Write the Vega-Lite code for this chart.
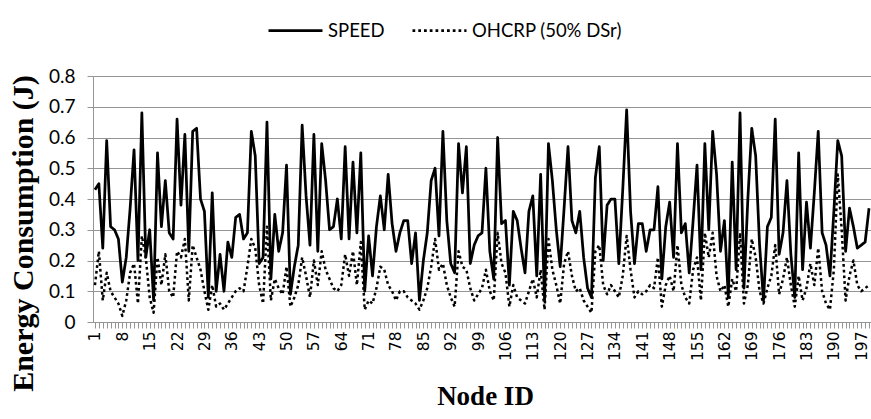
{
  "$schema": "https://vega.github.io/schema/vega-lite/v6.json",
  "width": 778,
  "height": 246,
  "autosize": {"type": "none"},
  "padding": {"left": 93, "top": 76, "right": 0, "bottom": 97},
  "background": "white",
  "data": {"values": [
    {"n":1,"s":0.43,"o":0.12},{"n":2,"s":0.45,"o":0.23},{"n":3,"s":0.24,"o":0.07},{"n":4,"s":0.59,"o":0.16},{"n":5,"s":0.31,"o":0.10},
    {"n":6,"s":0.30,"o":0.08},{"n":7,"s":0.27,"o":0.06},{"n":8,"s":0.13,"o":0.02},{"n":9,"s":0.21,"o":0.07},{"n":10,"s":0.37,"o":0.16},
    {"n":11,"s":0.56,"o":0.19},{"n":12,"s":0.20,"o":0.06},{"n":13,"s":0.68,"o":0.28},{"n":14,"s":0.21,"o":0.21},{"n":15,"s":0.30,"o":0.08},
    {"n":16,"s":0.07,"o":0.03},{"n":17,"s":0.55,"o":0.21},{"n":18,"s":0.31,"o":0.12},{"n":19,"s":0.46,"o":0.22},{"n":20,"s":0.29,"o":0.10},
    {"n":21,"s":0.27,"o":0.08},{"n":22,"s":0.66,"o":0.23},{"n":23,"s":0.38,"o":0.21},{"n":24,"s":0.61,"o":0.27},{"n":25,"s":0.23,"o":0.07},
    {"n":26,"s":0.62,"o":0.25},{"n":27,"s":0.63,"o":0.21},{"n":28,"s":0.40,"o":0.17},{"n":29,"s":0.36,"o":0.10},{"n":30,"s":0.08,"o":0.04},
    {"n":31,"s":0.42,"o":0.12},{"n":32,"s":0.10,"o":0.05},{"n":33,"s":0.22,"o":0.06},{"n":34,"s":0.10,"o":0.04},{"n":35,"s":0.26,"o":0.06},
    {"n":36,"s":0.21,"o":0.08},{"n":37,"s":0.34,"o":0.10},{"n":38,"s":0.35,"o":0.11},{"n":39,"s":0.27,"o":0.10},{"n":40,"s":0.29,"o":0.18},
    {"n":41,"s":0.62,"o":0.27},{"n":42,"s":0.54,"o":0.24},{"n":43,"s":0.19,"o":0.12},{"n":44,"s":0.21,"o":0.06},{"n":45,"s":0.65,"o":0.31},
    {"n":46,"s":0.14,"o":0.07},{"n":47,"s":0.35,"o":0.14},{"n":48,"s":0.23,"o":0.11},{"n":49,"s":0.29,"o":0.09},{"n":50,"s":0.51,"o":0.18},
    {"n":51,"s":0.09,"o":0.05},{"n":52,"s":0.18,"o":0.08},{"n":53,"s":0.25,"o":0.12},{"n":54,"s":0.64,"o":0.21},{"n":55,"s":0.41,"o":0.15},
    {"n":56,"s":0.25,"o":0.08},{"n":57,"s":0.61,"o":0.20},{"n":58,"s":0.23,"o":0.12},{"n":59,"s":0.58,"o":0.23},{"n":60,"s":0.46,"o":0.17},
    {"n":61,"s":0.30,"o":0.14},{"n":62,"s":0.31,"o":0.11},{"n":63,"s":0.40,"o":0.10},{"n":64,"s":0.27,"o":0.12},{"n":65,"s":0.57,"o":0.22},
    {"n":66,"s":0.27,"o":0.15},{"n":67,"s":0.52,"o":0.23},{"n":68,"s":0.29,"o":0.12},{"n":69,"s":0.55,"o":0.26},{"n":70,"s":0.10,"o":0.04},
    {"n":71,"s":0.28,"o":0.07},{"n":72,"s":0.15,"o":0.06},{"n":73,"s":0.31,"o":0.11},{"n":74,"s":0.41,"o":0.18},{"n":75,"s":0.30,"o":0.17},
    {"n":76,"s":0.48,"o":0.12},{"n":77,"s":0.32,"o":0.10},{"n":78,"s":0.23,"o":0.07},{"n":79,"s":0.29,"o":0.10},{"n":80,"s":0.33,"o":0.10},
    {"n":81,"s":0.33,"o":0.08},{"n":82,"s":0.19,"o":0.07},{"n":83,"s":0.29,"o":0.06},{"n":84,"s":0.07,"o":0.04},{"n":85,"s":0.20,"o":0.07},
    {"n":86,"s":0.29,"o":0.11},{"n":87,"s":0.46,"o":0.18},{"n":88,"s":0.50,"o":0.27},{"n":89,"s":0.28,"o":0.17},{"n":90,"s":0.62,"o":0.19},
    {"n":91,"s":0.33,"o":0.12},{"n":92,"s":0.19,"o":0.08},{"n":93,"s":0.16,"o":0.05},{"n":94,"s":0.58,"o":0.23},{"n":95,"s":0.42,"o":0.18},
    {"n":96,"s":0.57,"o":0.17},{"n":97,"s":0.19,"o":0.11},{"n":98,"s":0.25,"o":0.07},{"n":99,"s":0.28,"o":0.09},{"n":100,"s":0.29,"o":0.11},
    {"n":101,"s":0.50,"o":0.17},{"n":102,"s":0.23,"o":0.10},{"n":103,"s":0.14,"o":0.07},{"n":104,"s":0.60,"o":0.29},{"n":105,"s":0.32,"o":0.19},
    {"n":106,"s":0.33,"o":0.16},{"n":107,"s":0.12,"o":0.05},{"n":108,"s":0.36,"o":0.12},{"n":109,"s":0.33,"o":0.08},{"n":110,"s":0.24,"o":0.07},
    {"n":111,"s":0.16,"o":0.06},{"n":112,"s":0.36,"o":0.10},{"n":113,"s":0.41,"o":0.14},{"n":114,"s":0.15,"o":0.08},{"n":115,"s":0.48,"o":0.17},
    {"n":116,"s":0.07,"o":0.04},{"n":117,"s":0.58,"o":0.27},{"n":118,"s":0.46,"o":0.17},{"n":119,"s":0.30,"o":0.12},{"n":120,"s":0.18,"o":0.06},
    {"n":121,"s":0.37,"o":0.19},{"n":122,"s":0.57,"o":0.23},{"n":123,"s":0.33,"o":0.15},{"n":124,"s":0.29,"o":0.10},{"n":125,"s":0.36,"o":0.11},
    {"n":126,"s":0.21,"o":0.07},{"n":127,"s":0.11,"o":0.05},{"n":128,"s":0.08,"o":0.03},{"n":129,"s":0.47,"o":0.23},{"n":130,"s":0.57,"o":0.25},
    {"n":131,"s":0.20,"o":0.12},{"n":132,"s":0.38,"o":0.09},{"n":133,"s":0.40,"o":0.12},{"n":134,"s":0.40,"o":0.10},{"n":135,"s":0.19,"o":0.08},
    {"n":136,"s":0.43,"o":0.15},{"n":137,"s":0.69,"o":0.28},{"n":138,"s":0.36,"o":0.17},{"n":139,"s":0.19,"o":0.08},{"n":140,"s":0.32,"o":0.10},
    {"n":141,"s":0.32,"o":0.09},{"n":142,"s":0.23,"o":0.10},{"n":143,"s":0.30,"o":0.12},{"n":144,"s":0.30,"o":0.11},{"n":145,"s":0.44,"o":0.21},
    {"n":146,"s":0.14,"o":0.05},{"n":147,"s":0.31,"o":0.12},{"n":148,"s":0.39,"o":0.15},{"n":149,"s":0.21,"o":0.10},{"n":150,"s":0.58,"o":0.25},
    {"n":151,"s":0.29,"o":0.12},{"n":152,"s":0.32,"o":0.08},{"n":153,"s":0.16,"o":0.06},{"n":154,"s":0.33,"o":0.17},{"n":155,"s":0.51,"o":0.21},
    {"n":156,"s":0.17,"o":0.07},{"n":157,"s":0.58,"o":0.29},{"n":158,"s":0.30,"o":0.21},{"n":159,"s":0.62,"o":0.29},{"n":160,"s":0.48,"o":0.15},
    {"n":161,"s":0.23,"o":0.10},{"n":162,"s":0.33,"o":0.12},{"n":163,"s":0.08,"o":0.05},{"n":164,"s":0.52,"o":0.14},{"n":165,"s":0.17,"o":0.10},
    {"n":166,"s":0.68,"o":0.29},{"n":167,"s":0.11,"o":0.06},{"n":168,"s":0.40,"o":0.12},{"n":169,"s":0.63,"o":0.27},{"n":170,"s":0.54,"o":0.21},
    {"n":171,"s":0.25,"o":0.10},{"n":172,"s":0.07,"o":0.06},{"n":173,"s":0.31,"o":0.11},{"n":174,"s":0.34,"o":0.15},{"n":175,"s":0.66,"o":0.25},
    {"n":176,"s":0.22,"o":0.09},{"n":177,"s":0.29,"o":0.14},{"n":178,"s":0.46,"o":0.21},{"n":179,"s":0.22,"o":0.12},{"n":180,"s":0.08,"o":0.05},
    {"n":181,"s":0.55,"o":0.15},{"n":182,"s":0.17,"o":0.07},{"n":183,"s":0.39,"o":0.11},{"n":184,"s":0.24,"o":0.19},{"n":185,"s":0.42,"o":0.12},
    {"n":186,"s":0.62,"o":0.24},{"n":187,"s":0.29,"o":0.10},{"n":188,"s":0.25,"o":0.06},{"n":189,"s":0.15,"o":0.04},{"n":190,"s":0.36,"o":0.17},
    {"n":191,"s":0.59,"o":0.48},{"n":192,"s":0.54,"o":0.30},{"n":193,"s":0.23,"o":0.07},{"n":194,"s":0.37,"o":0.15},{"n":195,"s":0.31,"o":0.20},
    {"n":196,"s":0.24,"o":0.12},{"n":197,"s":0.25,"o":0.10},{"n":198,"s":0.26,"o":0.11},{"n":199,"s":0.37,"o":0.12}
  ]},
  "encoding": {
    "x": {
      "field": "n", "type": "ordinal",
      "scale": {"type": "point", "padding": 0.5},
      "axis": {
        "title": "Node ID",
        "titleFont": "Liberation Serif, Times New Roman, serif", "titleFontWeight": "bold", "titleFontSize": 27, "titleColor": "black",
        "titleX": 392, "titleY": 82, "titleBaseline": "alphabetic", "titleAlign": "center", "titleAnchor": null,
        "labelExpr": "(datum.value - 1) % 7 === 0 ? datum.label : ''",
        "labelOverlap": false, "labelAngle": -90, "labelFont": "DejaVu Sans", "labelFontSize": 15.5, "labelColor": "black",
        "labelPadding": 3, "labelBound": false, "labelFlush": false,
        "tickSize": 6, "tickColor": "#959595", "tickWidth": 1,
        "domainColor": "#959595", "domainWidth": 1, "grid": false
      }
    }
  },
  "layer": [
    {
      "mark": {"type": "line", "strokeWidth": 2.75, "strokeJoin": "round"},
      "encoding": {
        "y": {
          "field": "s", "type": "quantitative",
          "scale": {"domain": [0, 0.8], "nice": false},
          "axis": {
            "values": [0, 0.1, 0.2, 0.3, 0.4, 0.5, 0.6, 0.7, 0.8],
            "format": ".1~f", "labelOverlap": false,
            "title": "Energy Consumption (J)",
            "titleFont": "Liberation Serif, Times New Roman, serif", "titleFontWeight": "bold", "titleFontSize": 30, "titleColor": "black",
            "titleX": -61, "titleY": 157, "titleBaseline": "alphabetic", "titleAlign": "center", "titleAngle": 270,
            "labelFont": "Lato", "labelFontSize": 19, "labelColor": "black", "labelPadding": 12,
            "tickSize": 6, "tickColor": "#959595", "domainColor": "#959595",
            "grid": true, "gridColor": "#959595", "gridWidth": 1
          }
        },
        "color": {"datum": "SPEED", "scale": {"domain": ["SPEED", "OHCRP (50% DSr)"], "range": ["black", "black"]}},
        "strokeDash": {"datum": "SPEED", "scale": {"domain": ["SPEED", "OHCRP (50% DSr)"], "range": [[1, 0], [2.75, 3]]}}
      }
    },
    {
      "mark": {"type": "line", "strokeWidth": 2.5, "strokeJoin": "round"},
      "encoding": {
        "y": {
          "field": "o", "type": "quantitative",
          "axis": {
            "values": [0, 0.1, 0.2, 0.3, 0.4, 0.5, 0.6, 0.7, 0.8],
            "format": ".1~f", "labelOverlap": false,
            "title": "Energy Consumption (J)",
            "titleFont": "Liberation Serif, Times New Roman, serif", "titleFontWeight": "bold", "titleFontSize": 30, "titleColor": "black",
            "titleX": -61, "titleY": 157, "titleBaseline": "alphabetic", "titleAlign": "center", "titleAngle": 270,
            "labelFont": "Lato", "labelFontSize": 19, "labelColor": "black", "labelPadding": 12,
            "tickSize": 6, "tickColor": "#959595", "domainColor": "#959595",
            "grid": true, "gridColor": "#959595", "gridWidth": 1
          }
        },
        "color": {"datum": "OHCRP (50% DSr)"},
        "strokeDash": {"datum": "OHCRP (50% DSr)"}
      }
    }
  ],
  "config": {
    "view": {"stroke": null},
    "legend": {
      "orient": "none", "legendX": 174, "legendY": -74, "direction": "horizontal",
      "title": null, "symbolType": "stroke", "symbolSize": 2916, "symbolStrokeWidth": 2.75,
      "labelFont": "Lato", "labelFontSize": 18.5, "labelColor": "black", "labelOffset": 4,
      "columnPadding": 22, "padding": 0
    }
  }
}
